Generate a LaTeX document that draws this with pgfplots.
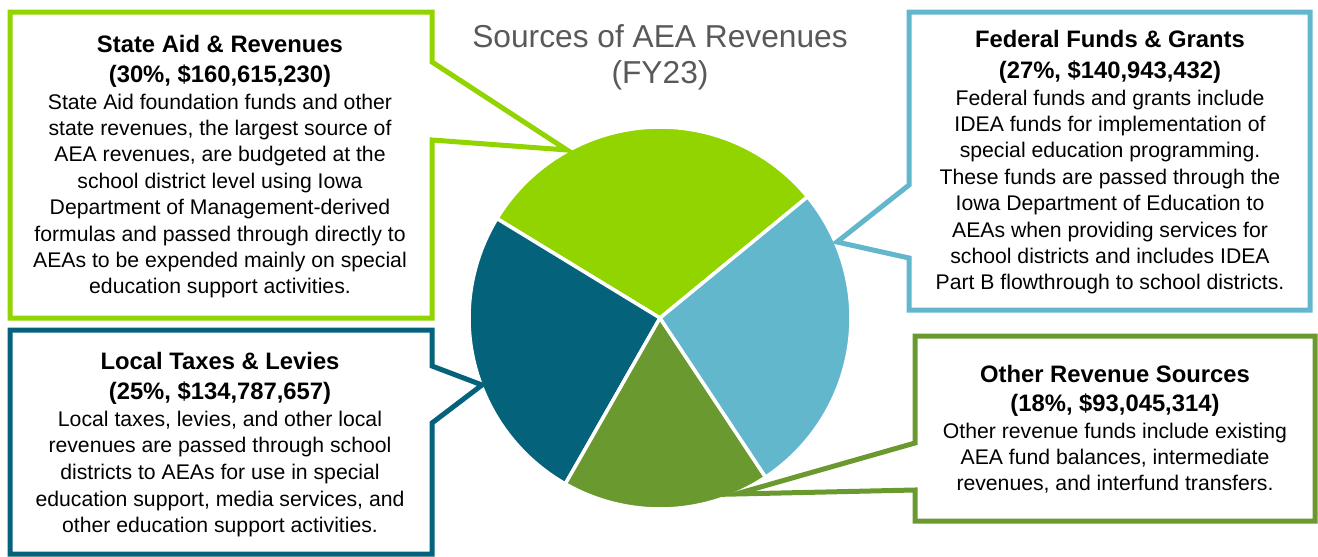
\documentclass[border=0pt]{standalone}
\usepackage{pgfplots}
\usepackage{pgfplotstable}
\pgfplotsset{compat=1.18}
\usepackage{fontspec}
\setmainfont{Liberation Sans}

\definecolor{cState}{HTML}{92D400}
\definecolor{cFed}{HTML}{62B7CD}
\definecolor{cLocal}{HTML}{04637A}
\definecolor{cOther}{HTML}{6A992F}
\definecolor{cTitle}{HTML}{595959}

% values in millions of dollars (FY23)
\pgfplotstableread{
source value
State 160.615230
Local 134.787657
Other 93.045314
Federal 140.943432
}\revtable

\pgfplotstablegetelem{0}{value}\of\revtable \let\vState\pgfplotsretval
\pgfplotstablegetelem{1}{value}\of\revtable \let\vLocal\pgfplotsretval
\pgfplotstablegetelem{2}{value}\of\revtable \let\vOther\pgfplotsretval
\pgfplotstablegetelem{3}{value}\of\revtable \let\vFed\pgfplotsretval
\pgfmathsetmacro\vTotal{\vState+\vLocal+\vOther+\vFed}
\pgfmathsetmacro\aA{39.4}
\pgfmathsetmacro\aB{\aA+360*(\vState/\vTotal)}
\pgfmathsetmacro\aC{\aB+360*(\vLocal/\vTotal)}
\pgfmathsetmacro\aD{\aC+360*(\vOther/\vTotal)}
\pgfmathsetmacro\aE{\aD+360*(\vFed/\vTotal)}

\newcommand\hd{\bfseries\fontsize{23.8}{28}\selectfont}
\newcommand\bd{\fontsize{21.2}{26}\selectfont}

\begin{document}
\begin{tikzpicture}
\begin{axis}[
  scale only axis, width=1318pt, height=557pt,
  xmin=0, xmax=1318, ymin=0, ymax=557, y dir=reverse,
  hide axis, clip=false,
]
% pie wedges
\addplot[fill=cState, draw=white, line width=3.5pt, line join=round, domain=\aA:\aB, samples=90, variable=\t]
  ({660+191*cos(\t)}, {318-191*sin(\t)}) -- (axis cs:660,318) -- cycle;
\addplot[fill=cLocal, draw=white, line width=3.5pt, line join=round, domain=\aB:\aC, samples=90, variable=\t]
  ({660+191*cos(\t)}, {318-191*sin(\t)}) -- (axis cs:660,318) -- cycle;
\addplot[fill=cOther, draw=white, line width=3.5pt, line join=round, domain=\aC:\aD, samples=90, variable=\t]
  ({660+191*cos(\t)}, {318-191*sin(\t)}) -- (axis cs:660,318) -- cycle;
\addplot[fill=cFed, draw=white, line width=3.5pt, line join=round, domain=\aD:\aE, samples=90, variable=\t]
  ({660+191*cos(\t)}, {318-191*sin(\t)}) -- (axis cs:660,318) -- cycle;

% callout frames
\draw[cState, line width=5pt] (axis cs:10,12) -- (axis cs:432,12) -- (axis cs:432,62) -- (axis cs:567,150)
  -- (axis cs:432,140) -- (axis cs:432,318) -- (axis cs:10,318) -- cycle;
\draw[cFed, line width=5pt] (axis cs:909,12) -- (axis cs:1310,12) -- (axis cs:1310,310) -- (axis cs:909,310)
  -- (axis cs:909,258) -- (axis cs:837,242) -- (axis cs:909,185) -- cycle;
\draw[cLocal, line width=5pt] (axis cs:10,330) -- (axis cs:432,330) -- (axis cs:432,366) -- (axis cs:482,385)
  -- (axis cs:432,423) -- (axis cs:432,554) -- (axis cs:10,554) -- cycle;
\draw[cOther, line width=5pt] (axis cs:915,336) -- (axis cs:1315,336) -- (axis cs:1315,521) -- (axis cs:915,521)
  -- (axis cs:915,490) -- (axis cs:736,494) -- (axis cs:915,443) -- cycle;

% title
\node[anchor=base, text=cTitle, font=\fontsize{31.7}{36}\selectfont] at (axis cs:660,47) {Sources of AEA Revenues};
\node[anchor=base, text=cTitle, font=\fontsize{31.7}{36}\selectfont] at (axis cs:660,83) {(FY23)};

% State box
\node[anchor=base, font=\hd] at (axis cs:220,52) {State Aid \& Revenues};
\node[anchor=base, font=\hd] at (axis cs:220,82) {(30\%, \$160,615,230)};
\node[anchor=base, font=\bd] at (axis cs:220,109) {State Aid foundation funds and other};
\node[anchor=base, font=\bd] at (axis cs:220,135.4) {state revenues, the largest source of};
\node[anchor=base, font=\bd] at (axis cs:220,161.8) {AEA revenues, are budgeted at the};
\node[anchor=base, font=\bd] at (axis cs:220,188.2) {school district level using Iowa};
\node[anchor=base, font=\bd] at (axis cs:220,214.6) {Department of Management-derived};
\node[anchor=base, font=\bd] at (axis cs:220,241) {formulas and passed through directly to};
\node[anchor=base, font=\bd] at (axis cs:220,267.4) {AEAs to be expended mainly on special};
\node[anchor=base, font=\bd] at (axis cs:220,293.8) {education support activities.};

% Federal box
\node[anchor=base, font=\hd] at (axis cs:1110,47) {Federal Funds \& Grants};
\node[anchor=base, font=\hd] at (axis cs:1110,78) {(27\%, \$140,943,432)};
\node[anchor=base, font=\bd] at (axis cs:1110,105) {Federal funds and grants include};
\node[anchor=base, font=\bd] at (axis cs:1110,131.4) {IDEA funds for implementation of};
\node[anchor=base, font=\bd] at (axis cs:1110,157.8) {special education programming.};
\node[anchor=base, font=\bd] at (axis cs:1110,184.2) {These funds are passed through the};
\node[anchor=base, font=\bd] at (axis cs:1110,210.6) {Iowa Department of Education to};
\node[anchor=base, font=\bd] at (axis cs:1110,237) {AEAs when providing services for};
\node[anchor=base, font=\bd] at (axis cs:1110,263.4) {school districts and includes IDEA};
\node[anchor=base, font=\bd] at (axis cs:1110,289.8) {Part B flowthrough to school districts.};

% Local box
\node[anchor=base, font=\hd] at (axis cs:220,369) {Local Taxes \& Levies};
\node[anchor=base, font=\hd] at (axis cs:220,399) {(25\%, \$134,787,657)};
\node[anchor=base, font=\bd] at (axis cs:220,426) {Local taxes, levies, and other local};
\node[anchor=base, font=\bd] at (axis cs:220,452.7) {revenues are passed through school};
\node[anchor=base, font=\bd] at (axis cs:220,479.4) {districts to AEAs for use in special};
\node[anchor=base, font=\bd] at (axis cs:220,506.1) {education support, media services, and};
\node[anchor=base, font=\bd] at (axis cs:220,532.8) {other education support activities.};

% Other box
\node[anchor=base, font=\hd] at (axis cs:1115,382) {Other Revenue Sources};
\node[anchor=base, font=\hd] at (axis cs:1115,411) {(18\%, \$93,045,314)};
\node[anchor=base, font=\bd] at (axis cs:1115,438) {Other revenue funds include existing};
\node[anchor=base, font=\bd] at (axis cs:1115,464) {AEA fund balances, intermediate};
\node[anchor=base, font=\bd] at (axis cs:1115,490) {revenues, and interfund transfers.};
\end{axis}
\path (current axis.south west) rectangle (current axis.north east);
\end{tikzpicture}
\end{document}
